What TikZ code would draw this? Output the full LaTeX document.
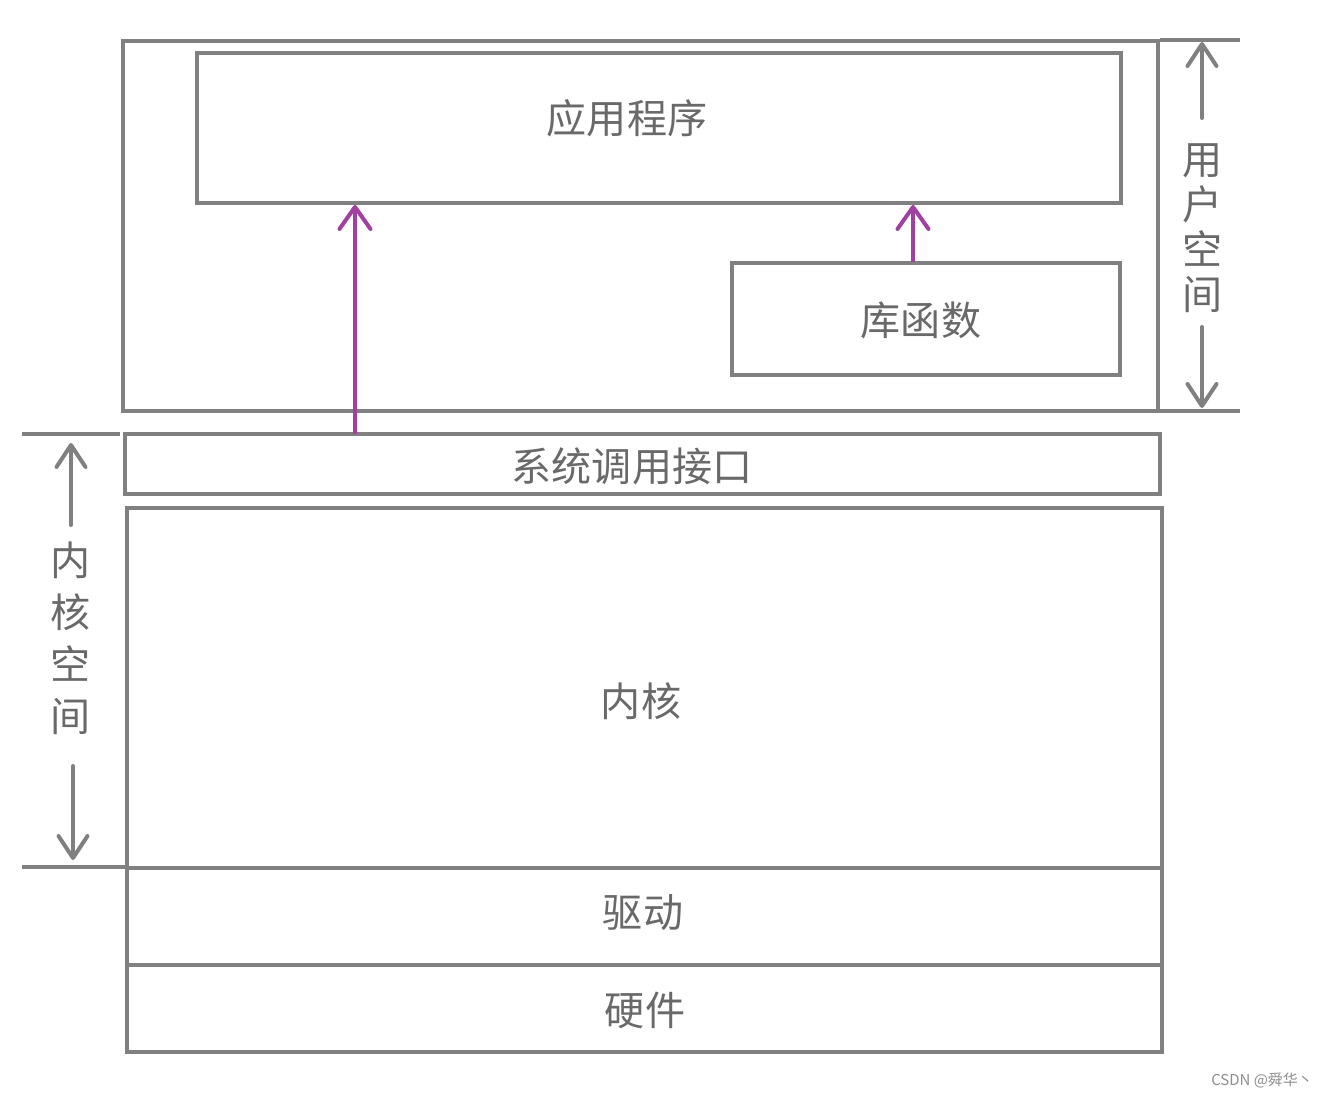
\documentclass[tikz,border=0pt]{standalone}
\usepackage{fontspec}
\newfontfamily\cjk{Noto Sans CJK SC}
\usepackage{tikz}
\usetikzlibrary{arrows.meta, positioning}
\definecolor{linegray}{RGB}{128,128,128}
\definecolor{textgray}{RGB}{105,105,105}
\definecolor{callpurple}{RGB}{160,64,160}
\tikzstyle{layer} = [draw=linegray, line width=0.08cm, rectangle, inner sep=0pt]
\tikzstyle{layertext} = [font=\cjk\fontsize{22.8}{27}\selectfont, text=textgray, inner sep=0pt]
\tikzstyle{tick} = [draw=linegray, line width=0.08cm]
\tikzstyle{dimarrow} = [draw=linegray, line width=0.08cm, line cap=round, -{Straight Barb[length=0.44cm, width=0.58cm, round]}]
\tikzstyle{callarrow} = [draw=callpurple, line width=0.08cm, -{Straight Barb[length=0.44cm, width=0.62cm, round]}]
\tikzstyle{vlabel} = [text=textgray, align=center, inner sep=0pt]

\begin{document}
\begin{tikzpicture}[x=0.02cm, y=-0.02cm]
                    \useasboundingbox[fill=white] (0,0) rectangle (1325,1097);
                    \node[layer, minimum width=20.7cm, minimum height=7.4cm] (userspace) at (640.5,226) {};
                    \node[layer, minimum width=18.48cm, minimum height=3cm] (app) at (659,128) {};
                    \node[layer, minimum width=7.76cm, minimum height=2.24cm] (lib) at (926,319) {};
                    \node[layer, minimum width=20.7cm, minimum height=1.2cm] (syscall) at (642.5,464) {};
                    \node[layer, minimum width=20.7cm, minimum height=7.2cm] (kernel) at (644.5,688) {};
                    \node[layer, minimum width=20.7cm, minimum height=1.94cm] (driver) at (644.5,916.5) {};
                    \node[layer, minimum width=20.7cm, minimum height=1.74cm] (hardware) at (644.5,1008.5) {};
                    \node[layertext] (apptitle) at (627,118) {应用程序};
                    \node[layertext] (libtitle) at (921,320) {库函数};
                    \node[layertext] (syscalltitle) at (632,466) {系统调用接口};
                    \node[layertext] (kerneltitle) at (641,701) {内核};
                    \node[layertext] (drivertitle) at (643,913) {驱动};
                    \node[layertext] (hardwaretitle) at (645,1010) {硬件};
                    \coordinate (syscallfoot) at (355,434);
                    \coordinate (libfoot) at (913,262);
                    \draw[callarrow] (syscallfoot) -- (syscallfoot |- app.south);
                    \draw[callarrow] (libfoot) -- (libfoot |- app.south);
                    \draw[tick] (1160,40) -- (1240,40);
                    \draw[tick] (1160,411) -- (1240,411);
                    \node[vlabel, font=\cjk\fontsize{22.8}{25.6}\selectfont] (userlabel) at (1203,228) {用\\户\\空\\间};
                    \coordinate (usertop) at (1202,42);
                    \coordinate (userbottom) at (1202,408);
                    \draw[dimarrow] (1202,118) -- (usertop);
                    \draw[dimarrow] (1202,327) -- (userbottom);
                    \draw[tick] (22,434) -- (120,434);
                    \draw[tick] (22,867) -- (125,867);
                    \node[vlabel, font=\cjk\fontsize{22.8}{29.6}\selectfont] (kernellabel) at (71,638) {内\\核\\空\\间};
                    \coordinate (kerneltop) at (71,443);
                    \coordinate (kernelbottom) at (73,860);
                    \draw[dimarrow] (71,525) -- (kerneltop);
                    \draw[dimarrow] (73,766) -- (kernelbottom);
                    \node[font=\cjk\fontsize{8.5}{10}\selectfont, text=linegray!90] (mark) at (1262,1080) {CSDN @舜华丶};
                \end{tikzpicture}
\end{document}
